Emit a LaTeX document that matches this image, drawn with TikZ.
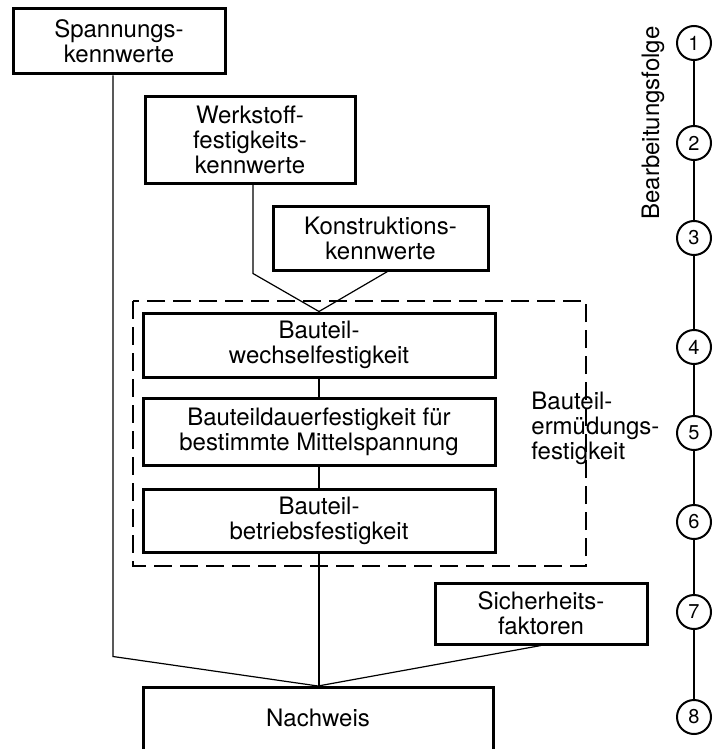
\documentclass[tikz,border=0pt]{standalone}
\usepackage{fontspec}
\setmainfont{TeX Gyre Heros}

\begin{document}
\begin{tikzpicture}[x=0.5pt, y=-0.5pt,
	box/.style={draw, line width=1.5pt, align=center, inner sep=0pt},
	wire/.style={line width=0.6pt},
	stepnum/.style={draw, circle, line width=1pt, minimum size=17pt, inner sep=0pt, font=\fontsize{10}{12}\selectfont}]

\fontsize{12}{12.5}\selectfont
\path [use as bounding box] (0,0) rectangle (714,749);

% BOXES
\node [box, minimum width=106pt, minimum height=32.5pt] (spann) at (119,41.5) {Spannungs-\\kennwerte};
\node [box, minimum width=105pt, minimum height=43pt] (werk) at (250,140) {Werkstoff-\\festigkeits-\\kennwerte};
\node [box, minimum width=107.5pt, minimum height=32pt] (konst) at (380.5,238) {Konstruktions-\\kennwerte};
\node [box, minimum width=176pt, minimum height=32pt] (wechsel) at (319,345) {Bauteil-\\wechselfestigkeit};
\node [box, minimum width=176pt, minimum height=33.5pt] (dauer) at (319,431.5) {Bauteildauerfestigkeit für\\bestimmte Mittelspannung};
\node [box, minimum width=176pt, minimum height=31.5pt] (betrieb) at (319,520.5) {Bauteil-\\betriebsfestigkeit};
\node [box, minimum width=106pt, minimum height=30.5pt] (sicher) at (541,613.5) {Sicherheits-\\faktoren};
\node [box, anchor=north, minimum width=175pt, inner ysep=10.5pt, text depth=30pt] (nach) at (318,686) {Nachweis};

% FRAME
\draw [line width=1.1pt, dash pattern=on 9pt off 4pt] (133,301) rectangle (586,566);
\node [align=left, anchor=west] (ermued) at (523,428) {Bauteil-\\ermüdungs-\\festigkeit};

% CONNECTORS
\draw [wire] ([xshift=-3pt]spann.south) -- ++(0,581) -- (nach.north);
\draw [wire] ([xshift=1.5pt]werk.south) -- ++(0,89) -- (wechsel.north);
\draw [wire] ([xshift=3.5pt]konst.south) -- (wechsel.north);
\draw [wire] (wechsel) -- (dauer);
\draw [wire] (dauer) -- (betrieb);
\draw [wire] (betrieb.south) -- (betrieb.south |- nach.north);
\draw [wire] (sicher.south) -- (nach.north);

% SEQUENCE
\node [rotate=90] (folge) at (653,123) {Bearbeitungsfolge};
\foreach \i/\y in {1/43, 2/143, 3/238, 4/347, 5/433, 6/522, 7/612, 8/717}
	\node [stepnum] (s\i) at (694,\y) {\i};
\foreach \i [evaluate=\i as \j using int(\i+1)] in {1,...,7}
	\draw [line width=0.9pt] (s\i) -- (s\j);

\end{tikzpicture}
\end{document}
